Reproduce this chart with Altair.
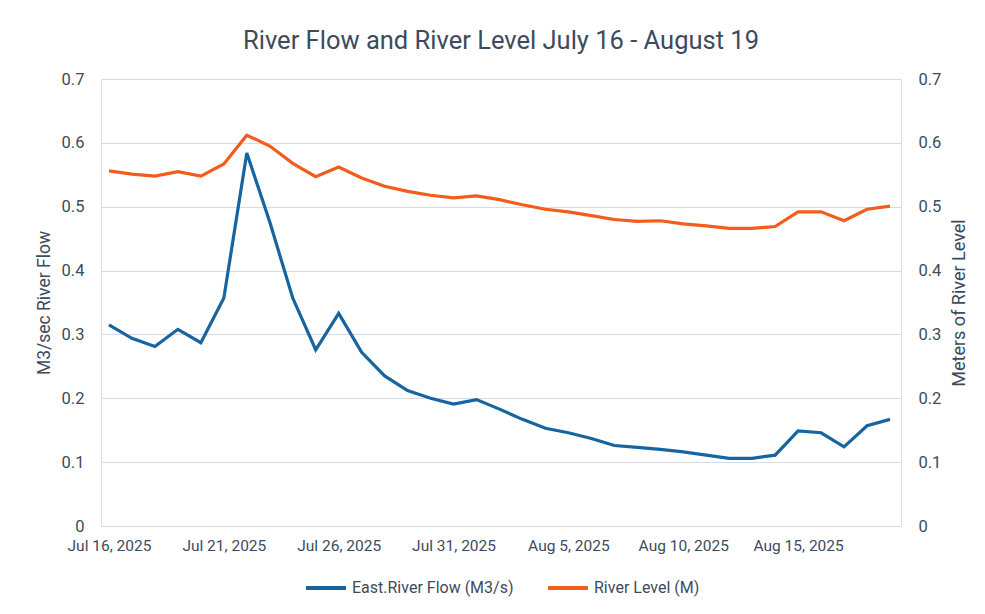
import altair as alt
import pandas as pd

dates = [
    "2025-07-16", "2025-07-17", "2025-07-18", "2025-07-19", "2025-07-20",
    "2025-07-21", "2025-07-22", "2025-07-23", "2025-07-24", "2025-07-25",
    "2025-07-26", "2025-07-27", "2025-07-28", "2025-07-29", "2025-07-30",
    "2025-07-31", "2025-08-01", "2025-08-02", "2025-08-03", "2025-08-04",
    "2025-08-05", "2025-08-06", "2025-08-07", "2025-08-08", "2025-08-09",
    "2025-08-10", "2025-08-11", "2025-08-12", "2025-08-13", "2025-08-14",
    "2025-08-15", "2025-08-16", "2025-08-17", "2025-08-18", "2025-08-19",
]

flow = [
    0.315, 0.294, 0.281, 0.308, 0.287, 0.357, 0.584, 0.476, 0.357, 0.276,
    0.333, 0.272, 0.235, 0.212, 0.200, 0.191, 0.198, 0.183, 0.167, 0.153,
    0.146, 0.137, 0.126, 0.123, 0.120, 0.116, 0.111, 0.106, 0.106, 0.111,
    0.149, 0.146, 0.124, 0.157, 0.167,
]

level = [
    0.556, 0.551, 0.548, 0.555, 0.548, 0.567, 0.612, 0.595, 0.568, 0.547,
    0.562, 0.545, 0.532, 0.524, 0.518, 0.514, 0.517, 0.511, 0.503, 0.496,
    0.492, 0.486, 0.480, 0.477, 0.478, 0.473, 0.470, 0.466, 0.466, 0.469,
    0.492, 0.492, 0.478, 0.496, 0.501,
]

series_names = ["East.River Flow (M3/s)", "River Level (M)"]
series_colors = ["#1664a0", "#f25c1c"]
y_ticks = [0, 0.1, 0.2, 0.3, 0.4, 0.5, 0.6, 0.7]
x_ticks = ["2025-07-16", "2025-07-21", "2025-07-26", "2025-07-31",
           "2025-08-05", "2025-08-10", "2025-08-15"]

df = pd.DataFrame({"date": dates, "flow": flow, "level": level})

FONT = "Roboto"
TXT = "#3d4b5e"

def dt(s, h=0, m=0):
    y, mo, d = (int(v) for v in s.split("-"))
    return alt.DateTime(year=y, month=mo, date=d, hours=h, minutes=m, utc=True)

x_enc = alt.X(
    "date:T",
    scale=alt.Scale(type="utc", domain=[dt("2025-07-15", 15, 40), dt("2025-08-19", 11, 30)]),
    axis=alt.Axis(
        title=None, values=[dt(s) for s in x_ticks], format="%b %-d, %Y",
        grid=False, domain=False, ticks=False, labelPadding=12,
        labelFontSize=15.5, labelColor=TXT, labelFont=FONT,
    ),
)

color_enc = alt.Color(
    "series:N",
    scale=alt.Scale(domain=series_names, range=series_colors),
    legend=alt.Legend(
        title=None, orient="none", direction="horizontal", columns=2,
        legendX=203, legendY=487, padding=0, labelLimit=400,
        symbolType="stroke", symbolSize=1600, symbolStrokeWidth=4,
        labelFontSize=16, labelColor=TXT, labelFont=FONT,
        columnPadding=26, labelOffset=4,
    ),
)

label_expr = "datum.value == 0 ? '0' : format(datum.value, '.1f')"

flow_line = alt.Chart(df).transform_calculate(
    series=f"'{series_names[0]}'"
).mark_line(strokeWidth=3.2).encode(
    x=x_enc,
    y=alt.Y(
        "flow:Q",
        scale=alt.Scale(domain=[0, 0.7]),
        axis=alt.Axis(
            title="M3/sec River Flow", orient="left", values=y_ticks,
            labelExpr=label_expr, grid=True, gridColor="#d3dceb", gridWidth=1,
            domain=False, ticks=False, labelPadding=17, titlePadding=8,
            labelFontSize=16.5, labelColor=TXT, labelFont=FONT,
            titleFontSize=17.5, titleColor=TXT, titleFont=FONT, titleFontWeight="normal",
        ),
    ),
    color=color_enc,
)

level_line = alt.Chart(df).transform_calculate(
    series=f"'{series_names[1]}'"
).mark_line(strokeWidth=3.2).encode(
    x=x_enc,
    y=alt.Y(
        "level:Q",
        scale=alt.Scale(domain=[0, 0.7]),
        axis=alt.Axis(
            title="Meters of River Level", orient="right", values=y_ticks,
            labelExpr=label_expr, grid=False, titleAngle=270, titleBaseline="top",
            domain=False, ticks=False, labelPadding=17, titlePadding=10,
            labelFontSize=16.5, labelColor=TXT, labelFont=FONT,
            titleFontSize=18, titleColor=TXT, titleFont=FONT, titleFontWeight="normal",
        ),
    ),
    color=color_enc,
)

chart = alt.layer(flow_line, level_line).resolve_scale(
    y="independent"
).properties(
    width=800,
    height=447,
    padding={"left": 27, "top": 20, "right": 5, "bottom": 5},
    title=alt.TitleParams(
        "River Flow and River Level July 16 - August 19",
        fontSize=25.5, font=FONT, fontWeight="normal", color=TXT,
        anchor="middle", frame="group", offset=17,
    ),
).configure_view(stroke=None).configure(background="white")

chart.save("out.html", embed_options={"renderer": "svg", "actions": False})
